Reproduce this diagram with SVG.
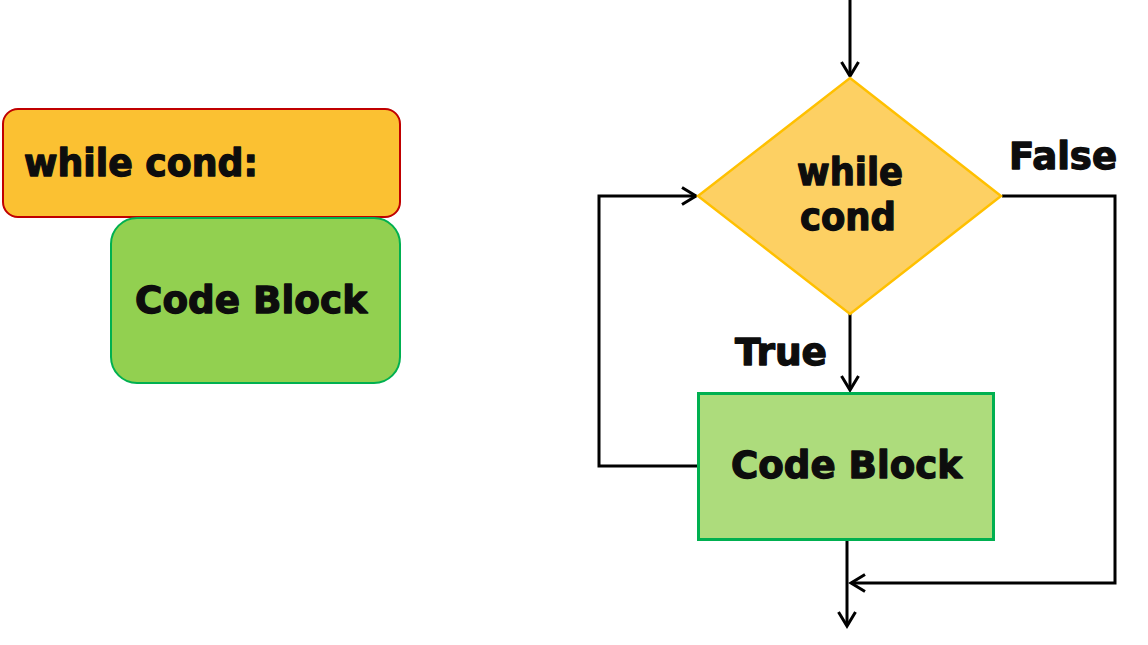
<svg xmlns="http://www.w3.org/2000/svg" width="1148" height="645" viewBox="0 0 1148 645">
  <style>
    .t { font-family: "DejaVu Sans", "Liberation Sans", sans-serif; font-weight: bold; font-size: 37px; fill: #0D0D0D; stroke: #0D0D0D; stroke-width: 1.3; stroke-linejoin: round; }
    .c { text-anchor: middle; }
    .conn { fill: none; stroke: #000; stroke-width: 3; }
  </style>
  <defs>
    <marker id="arr" viewBox="-16 -11 19 22" refX="0" refY="0" markerWidth="19" markerHeight="22" markerUnits="userSpaceOnUse" orient="auto">
      <path d="M-14,-8.5 L0,0 L-14,8.5" fill="none" stroke="#000" stroke-width="3"/>
    </marker>
  </defs>
  <rect width="1148" height="645" fill="#fff"/>

  <g id="left-while">
    <rect x="3" y="109" width="397" height="108" rx="15" fill="#FBC132" stroke="#C00000" stroke-width="2"/>
    <text class="t" x="24" y="176" textLength="234" lengthAdjust="spacingAndGlyphs">while cond:</text>
  </g>
  <g id="left-code">
    <rect x="111" y="218" width="289" height="165" rx="26" fill="#92D050" stroke="#00B050" stroke-width="2"/>
    <text class="t" x="135" y="313" textLength="232" lengthAdjust="spacingAndGlyphs">Code Block</text>
  </g>

  <g id="connectors">
    <path class="conn" d="M850,0 V76" marker-end="url(#arr)"/>
    <path class="conn" d="M850,314 V390" marker-end="url(#arr)"/>
    <path class="conn" d="M699,466 H599 V196 H696" marker-end="url(#arr)"/>
    <path class="conn" d="M1002,196 H1115 V583 H851" marker-end="url(#arr)"/>
    <path class="conn" d="M847,541 V626" marker-end="url(#arr)"/>
  </g>

  <g id="decision">
    <polygon points="850,78 1001,196 850,314 698,196" fill="#FDD063" stroke="#FFC000" stroke-width="2.5"/>
    <text class="t c" x="850" y="185" textLength="106" lengthAdjust="spacingAndGlyphs">while</text>
    <text class="t c" x="848" y="230" textLength="96" lengthAdjust="spacingAndGlyphs">cond</text>
  </g>
  <g id="code-block">
    <rect x="698.5" y="393.5" width="295" height="146" fill="#ADDC7C" stroke="#00B050" stroke-width="3"/>
    <text class="t" x="731" y="478" textLength="231" lengthAdjust="spacingAndGlyphs">Code Block</text>
  </g>
  <g id="labels">
    <text class="t" x="1009" y="169" textLength="108" lengthAdjust="spacingAndGlyphs">False</text>
    <text class="t" x="735" y="365" textLength="92" lengthAdjust="spacingAndGlyphs">True</text>
  </g>
</svg>
